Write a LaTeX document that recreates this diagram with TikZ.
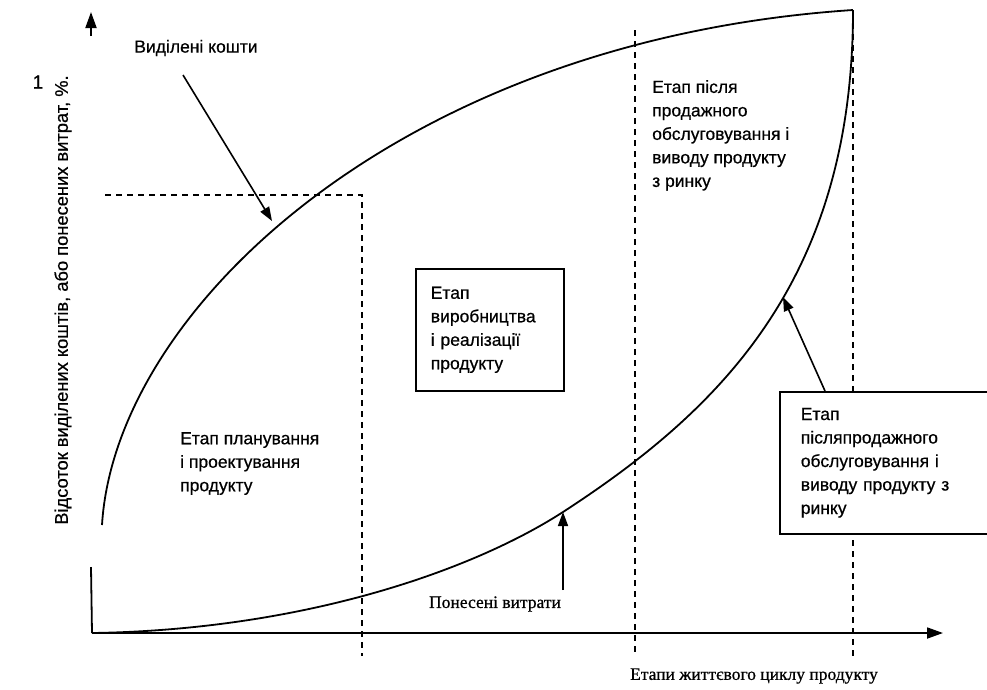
\documentclass[tikz,border=0pt]{standalone}
\usepackage{fontspec}
\setmainfont{Liberation Sans}[FakeBold=0.6]
\newfontfamily\serifcyr{Liberation Serif}[FakeBold=0.7]
\usetikzlibrary{arrows.meta}
\begin{document}
\begin{tikzpicture}[x=1pt,y=-1pt,
  lbl/.style={font=\fontsize{17.5}{23.5}\selectfont, inner sep=0pt, align=left},
  slbl/.style={font=\serifcyr\fontsize{17.5}{23.5}\selectfont, inner sep=0pt},
  curve/.style={line width=1.8pt},
  axis/.style={line width=1.8pt},
  dsh/.style={line width=1.4pt, dash pattern=on 6pt off 5pt},
  ptr/.style={line width=1.6pt, -{Triangle[length=14pt,width=10pt]}},
  boxnode/.style={draw, fill=white, line width=1.6pt, font=\fontsize{17.5}{23.5}\selectfont, align=left, anchor=north west, inner ysep=0pt}]
\useasboundingbox (0,0) rectangle (987,689);

% key points
\coordinate (O) at (92,633);
\coordinate (Xend) at (943,633);
\coordinate (Ylow) at (91,567);
\coordinate (Ystub) at (91,36);
\coordinate (Yend) at (91,12);
\coordinate (T) at (853,10);
\coordinate (U) at (102,525);
\coordinate (L1) at (563,512);

% dashed stage borders
\coordinate (d1t) at (362,195);
\coordinate (d1b) at (362,656);
\coordinate (d0) at (105,195);
\coordinate (d2t) at (635,30);
\coordinate (d2b) at (635,656);
\coordinate (d3t) at (853,12);
\coordinate (d3b) at (853,656);
\draw[dsh] (d0) -- (d1t) -- (d1b);
\draw[dsh] (d2t) -- (d2b);
\draw[dsh] (d3t) -- (d3b);

% axes
\draw[axis] (Ylow) -- (O);
\draw[axis, -{Triangle[length=16pt,width=11pt]}] (O) -- (Xend);
\draw[axis, -{Triangle[length=16pt,width=11pt]}] (Ystub) -- (Yend);

% curves
\draw[curve] (U) .. controls (115,310) and (400,40) .. (T);
\draw[curve] (O) .. controls (300,630) and (470,572) .. (L1)
             .. controls (720,410) and (853,280) .. (T);

% texts
\node[lbl, anchor=center] (alloc) at (196,48) {Виділені кошти};
\node[lbl, anchor=center, rotate=90, font=\fontsize{18.3}{22}\selectfont] (ylab) at (63,300) {Відсоток виділених коштів, або понесених витрат, \%.};
\node[lbl, anchor=center, font=\fontsize{19}{22}\selectfont] (one) at (38,82) {1};
\node[lbl, anchor=north west] (plan) at (180,432) {Етап планування\\і проектування\\продукту};
\node[lbl, anchor=north west] (after) at (652,80) {Етап після\\продажного\\обслуговування і\\виводу продукту\\з ринку};
\node[boxnode, minimum width=148pt, minimum height=122pt, text width=118pt, inner xsep=15pt] (prod) at (415,268) {Етап\\виробництва\\і реалізації\\продукту};
\node[boxnode, minimum width=230pt, minimum height=142pt, text width=188pt, inner xsep=21pt] (post) at (779,391) {Етап\\післяпродажного\\обслуговування і\\виводу продукту з\\ринку};
\node[slbl, anchor=center] (spent) at (495,604) {Понесені витрати};
\node[slbl, anchor=center] (xlab) at (754,676) {Етапи життєвого циклу продукту};

% pointer arrows
\coordinate (a1s) at (183,75);
\coordinate (a1e) at (272,221);
\coordinate (a2s) at (563,590);
\coordinate (a3s) at (825,391);
\coordinate (a3e) at (783,297);
\draw[ptr] (a1s) -- (a1e);
\draw[ptr] (a2s) -- (L1);
\draw[ptr] (a3s) -- (a3e);
\end{tikzpicture}
\end{document}
